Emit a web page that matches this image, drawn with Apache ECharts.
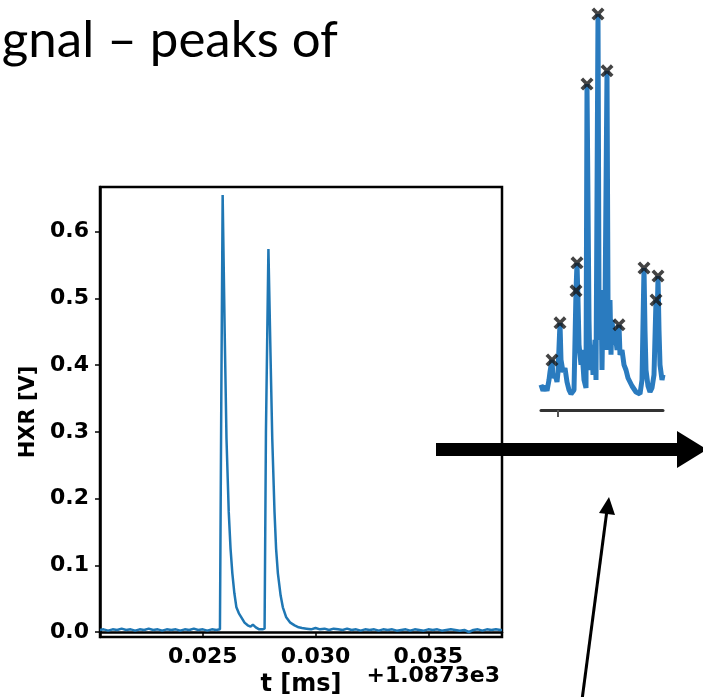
<!DOCTYPE html>
<html>
<head>
<meta charset="utf-8">
<script src="https://cdn.jsdelivr.net/npm/echarts@6/dist/echarts.min.js"></script>
<style>
  html, body { margin: 0; padding: 0; background: #fff; }
  #chart { width: 703px; height: 697px; }
</style>
</head>
<body>
<div id="chart"></div>
<script>
// main HXR trace, t is the offset from 1.0873e3 ms
const tMain = [
  0.02044, 0.0206, 0.0208, 0.0210, 0.0212, 0.0214, 0.0216, 0.0218, 0.0220, 0.0222,
  0.0224, 0.0226, 0.0228, 0.0230, 0.0232, 0.0234, 0.0236, 0.0238, 0.0240, 0.0242,
  0.0244, 0.0246, 0.0248, 0.0250, 0.0252, 0.0254, 0.0256, 0.02576,
  0.02582, 0.02588, 0.02597, 0.02605, 0.02615, 0.02623, 0.02631, 0.02640, 0.02649, 0.02660,
  0.02671, 0.02685, 0.02699, 0.02712, 0.02722, 0.02735, 0.02750, 0.02765, 0.02774,
  0.02780, 0.02791, 0.02800, 0.02808, 0.02818, 0.02825, 0.02833, 0.02845, 0.02855, 0.02870,
  0.02888, 0.02907, 0.02925, 0.0294,
  0.0296, 0.0298, 0.0300, 0.0302, 0.0304, 0.0306, 0.0308, 0.0310, 0.0312, 0.0314,
  0.0316, 0.0318, 0.0320, 0.0322, 0.0324, 0.0326, 0.0328, 0.0330, 0.0332, 0.0334,
  0.0336, 0.0338, 0.0340, 0.0342, 0.0344, 0.0346, 0.0348, 0.0350, 0.0352, 0.0354,
  0.0356, 0.0358, 0.0360, 0.0362, 0.0364, 0.0366, 0.0368, 0.0370, 0.0372, 0.0374,
  0.0376, 0.0378, 0.0380, 0.0382, 0.03827
];
const hxrMain = [
  0.003, 0.004, 0.002, 0.004, 0.003, 0.005, 0.003, 0.004, 0.002, 0.004,
  0.003, 0.005, 0.003, 0.004, 0.002, 0.004, 0.003, 0.004, 0.002, 0.004,
  0.003, 0.005, 0.003, 0.004, 0.002, 0.004, 0.003, 0.004,
  0.35, 0.655, 0.45, 0.29, 0.18, 0.125, 0.088, 0.058, 0.037, 0.028,
  0.022, 0.014, 0.010, 0.008, 0.011, 0.007, 0.004, 0.004, 0.005,
  0.30, 0.574, 0.42, 0.29, 0.18, 0.125, 0.088, 0.055, 0.037, 0.022,
  0.014, 0.010, 0.007, 0.006,
  0.005, 0.004, 0.006, 0.004, 0.005, 0.003, 0.005, 0.004, 0.003, 0.005,
  0.003, 0.004, 0.002, 0.004, 0.003, 0.004, 0.002, 0.004, 0.003, 0.004,
  0.002, 0.003, 0.004, 0.002, 0.004, 0.003, 0.002, 0.004, 0.003, 0.004,
  0.002, 0.003, 0.004, 0.003, 0.002, 0.003, 0.000, 0.003, 0.004, 0.002,
  0.004, 0.003, 0.004, 0.003, 0.003
];
const xTicks = [0.025, 0.030, 0.035];
const yTicks = [0.0, 0.1, 0.2, 0.3, 0.4, 0.5, 0.6];

// inset: cropped trace with detected peaks (sample index, arbitrary amplitude)
const insetIdx = [
  0, 2, 4, 6, 8, 9, 11, 12, 14, 16, 17, 19, 20, 22, 24, 26, 28, 30, 32, 33,
  35, 36, 37, 38, 40, 41, 43, 45, 46, 48, 49, 51, 52, 54, 55, 57, 58, 59, 60, 61,
  62, 63, 64, 66, 67, 68, 69, 70, 71, 73, 74, 76, 78, 79, 81, 83, 85, 87, 89, 91,
  93, 95, 97, 99, 101, 103, 104, 105, 107, 109, 111, 113, 115, 116, 117, 118, 119, 121, 122
];
const insetVal = [
  6.3, 4.8, 6, 4.8, 7.5, 9.5, 12.5, 8, 9, 7, 9.5, 21.8, 12.5, 9.5, 10.5, 7, 5, 4, 3.5, 5,
  29.8, 36.8, 27.5, 16.3, 11.3, 15, 7.5, 5.5, 81.5, 22.5, 10, 16.3, 8.8, 17.5, 7.5, 99, 27.5, 17.5, 30, 10,
  27.5, 15, 25, 84.8, 27.5, 15, 27.5, 13.8, 22.5, 16.3, 20, 15, 21.3, 13.8, 15, 11.3, 10, 8, 7.5, 6,
  5.5, 4.5, 5, 4, 7.5, 35.5, 20, 10, 6, 4.5, 5.5, 8.8, 27.5, 20, 33.5, 20, 11.3, 7.5, 8.8
];
const peakIdx = [11, 19, 35, 36, 46, 57, 66, 78, 103, 115, 117];
const peakVal = [12.5, 21.8, 29.8, 36.8, 81.5, 99, 84.8, 21.3, 35.5, 27.5, 33.5];

const titleText = 'gnal – peaks of';
const offsetText = '+1.0873e3';

const chartDom = document.getElementById('chart');
const myChart = echarts.init(chartDom);

const labelFont = {
  fontFamily: 'DejaVu Sans',
  fontWeight: 'bold',
  fontSize: 22,
  color: '#000'
};

const crossPath = 'path://M0,2 L2,0 L5,3 L8,0 L10,2 L7,5 L10,8 L8,10 L5,7 L2,10 L0,8 L3,5 Z';

const option = {
  backgroundColor: '#fff',
  animation: false,
  grid: [
    {
      left: 100, top: 187, width: 402, height: 450,
      outerBoundsMode: 'none',
      show: true, borderColor: '#000', borderWidth: 2.5
    },
    { left: 541, top: 0, width: 122, height: 410, outerBoundsMode: 'none' }
  ],
  xAxis: [
    {
      type: 'value',
      gridIndex: 0,
      min: 0.02044,
      max: 0.03827,
      name: 't [ms]',
      nameLocation: 'middle',
      nameGap: 25,
      nameTextStyle: Object.assign({}, labelFont, { fontSize: 24 }),
      axisLine: { lineStyle: { color: '#000', width: 2.5 } },
      axisTick: { customValues: xTicks, length: 5, lineStyle: { color: '#000', width: 1.5 } },
      axisLabel: Object.assign({
        customValues: xTicks,
        margin: 9,
        formatter: (v) => v.toFixed(3)
      }, labelFont),
      splitLine: { show: false }
    },
    {
      type: 'value',
      gridIndex: 1,
      min: 0,
      max: 122,
      axisLine: { lineStyle: { color: '#333', width: 3 } },
      axisTick: { customValues: [17], length: 7, lineStyle: { color: '#555', width: 2 } },
      axisLabel: { show: false },
      splitLine: { show: false }
    }
  ],
  yAxis: [
    {
      type: 'value',
      gridIndex: 0,
      min: -0.0075,
      max: 0.667,
      name: 'HXR [V]',
      nameLocation: 'middle',
      nameGap: 60,
      nameRotate: 90,
      nameTextStyle: Object.assign({}, labelFont, { fontSize: 21 }),
      axisLine: { show: true, lineStyle: { color: '#000', width: 2.5 } },
      axisTick: { show: true, customValues: yTicks, length: 5, lineStyle: { color: '#000', width: 1.5 } },
      axisLabel: Object.assign({
        customValues: yTicks,
        margin: 11,
        formatter: (v) => v.toFixed(1)
      }, labelFont),
      splitLine: { show: false }
    },
    {
      type: 'value',
      gridIndex: 1,
      min: 0,
      max: 102.5,
      show: false
    }
  ],
  series: [
    {
      type: 'line',
      xAxisIndex: 0,
      yAxisIndex: 0,
      showSymbol: false,
      lineStyle: { color: '#1f77b4', width: 2.5 },
      data: tMain.map((t, i) => [t, hxrMain[i]])
    },
    {
      type: 'line',
      xAxisIndex: 1,
      yAxisIndex: 1,
      showSymbol: false,
      lineStyle: { color: '#2a7bbf', width: 5 },
      data: insetIdx.map((x, i) => [x, insetVal[i]])
    },
    {
      type: 'scatter',
      xAxisIndex: 1,
      yAxisIndex: 1,
      symbol: crossPath,
      symbolSize: 13,
      itemStyle: { color: '#151515' },
      z: 5,
      data: peakIdx.map((x, i) => [x, peakVal[i]])
    }
  ],
  graphic: [
    {
      type: 'text',
      right: 703 - 338,
      top: 15,
      style: {
        text: titleText,
        font: '51px Lato',
        fill: '#000'
      }
    },
    {
      type: 'text',
      x: 500,
      y: 676,
      style: {
        text: offsetText,
        fill: '#000',
        font: 'bold 22px "DejaVu Sans"',
        align: 'right',
        verticalAlign: 'middle'
      }
    },
    // thick horizontal arrow
    {
      type: 'rect',
      shape: { x: 436, y: 443, width: 243, height: 13 },
      style: { fill: '#000' },
      z: 20
    },
    {
      type: 'polygon',
      shape: { points: [[677, 431], [707, 449.5], [677, 468]] },
      style: { fill: '#000' },
      z: 20
    },
    // thin pointer arrow
    {
      type: 'line',
      shape: { x1: 582, y1: 700, x2: 607, y2: 510 },
      style: { stroke: '#000', lineWidth: 3 },
      z: 20
    },
    {
      type: 'polygon',
      shape: { points: [[609, 497], [615, 515], [599, 513]] },
      style: { fill: '#000' },
      z: 20
    }
  ]
};

myChart.setOption(option);
window.addEventListener('resize', myChart.resize);
</script>
</body>
</html>
